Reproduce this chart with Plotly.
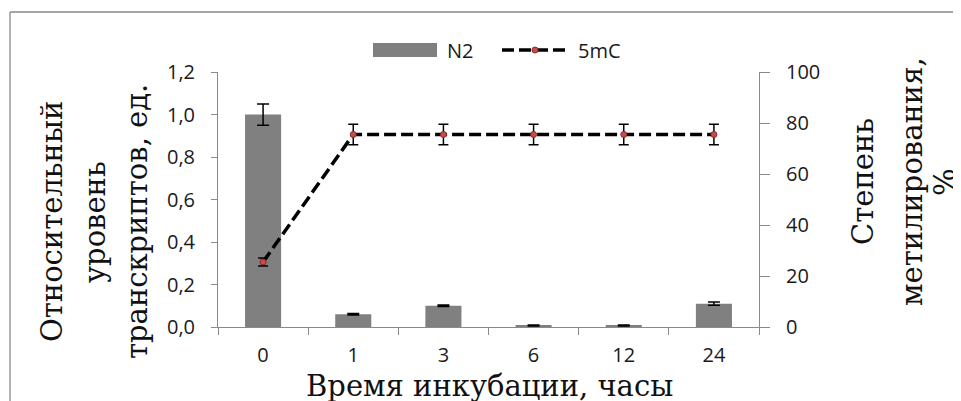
import plotly.graph_objects as go

# ---- data ----
categories = ["0", "1", "3", "6", "12", "24"]
series_names = ["N2", "5mC"]
n2_values = [1.00, 0.06, 0.10, 0.007, 0.007, 0.11]
n2_errors = [0.05, 0.004, 0.004, 0.002, 0.002, 0.008]
mc_values = [25.5, 75.5, 75.5, 75.5, 75.5, 75.5]
mc_errors = [1.6, 4.0, 4.0, 4.0, 4.0, 4.0]
left_ticks = [0, 0.2, 0.4, 0.6, 0.8, 1.0, 1.2]
right_ticks = [0, 20, 40, 60, 80, 100]
x_title = "Время инкубации, часы"
left_title_lines = ["Относительный", "уровень", "транскриптов, ед."]
right_title_lines = ["Степень", "метилирования,", "%"]

# page body adds an 8px margin; layout is designed in screen pixels
OFF = 8
W, H = 961, 401
L, R, T, B = 218 - OFF, 759 - OFF, 72 - OFF, 327 - OFF


def px(x):
    return (x - OFF - L) / (R - L)


def py(y):
    return (B - (y - OFF)) / (B - T)


TICK_FONT = dict(family="Open Sans", size=20, color="#1a1a1a")
TITLE_FONT = dict(family="DejaVu Serif", size=29, color="#111111")
AXIS_GREY = "#8a8a8a"

fig = go.Figure()
fig.add_trace(go.Bar(
    x=categories, y=n2_values, name=series_names[0],
    marker=dict(color="#808080", line=dict(width=0)),
    error_y=dict(type="data", array=n2_errors, color="black", thickness=1.5, width=6),
    showlegend=False,
))
fig.add_trace(go.Scatter(
    x=categories, y=mc_values, name=series_names[1], yaxis="y2",
    mode="lines+markers",
    line=dict(color="black", width=3.5, dash="12px,5px"),
    marker=dict(color="#c0504d", size=6, line=dict(color="#a02020", width=1)),
    error_y=dict(type="data", array=mc_errors, color="black", thickness=1.5, width=5),
    showlegend=False,
))

annotations = []
shapes = []

# custom legend
shapes.append(dict(type="rect", xref="paper", yref="paper",
                   x0=px(373), x1=px(437), y0=py(57), y1=py(43),
                   fillcolor="#808080", line=dict(width=0)))
annotations.append(dict(xref="paper", yref="paper", x=px(445), y=py(50),
                        text=series_names[0], showarrow=False, xanchor="left",
                        yanchor="middle", font=TICK_FONT))
shapes.append(dict(type="line", xref="paper", yref="paper",
                   x0=px(502), x1=px(568), y0=py(50), y1=py(50),
                   line=dict(color="black", width=3.5, dash="12px,5px")))
shapes.append(dict(type="circle", xref="paper", yref="paper",
                   x0=px(532), x1=px(538), y0=py(53), y1=py(47),
                   fillcolor="#c0504d", line=dict(color="#a02020", width=1)))
annotations.append(dict(xref="paper", yref="paper", x=px(576), y=py(50),
                        text=series_names[1], showarrow=False, xanchor="left",
                        yanchor="middle", font=TICK_FONT))

# outer chart frame (left and top edges visible)
shapes.append(dict(type="line", xref="paper", yref="paper",
                   x0=px(10), x1=px(10), y0=py(12), y1=py(430),
                   line=dict(color=AXIS_GREY, width=1.3)))
shapes.append(dict(type="line", xref="paper", yref="paper",
                   x0=px(10), x1=px(990), y0=py(12), y1=py(12),
                   line=dict(color=AXIS_GREY, width=1.3)))

# axis titles
annotations.append(dict(xref="paper", yref="paper", x=px(489), y=py(386),
                        text=x_title, showarrow=False, xanchor="center",
                        yanchor="middle", font=TITLE_FONT))
for xline, txt in zip([52, 95, 137], left_title_lines):
    annotations.append(dict(xref="paper", yref="paper", x=px(xline), y=py(222),
                            text=txt, showarrow=False, textangle=-90,
                            xanchor="center", yanchor="middle", font=TITLE_FONT))
for xline, txt in zip([863, 912, 945], right_title_lines):
    annotations.append(dict(xref="paper", yref="paper", x=px(xline), y=py(182),
                            text=txt, showarrow=False, textangle=-90,
                            xanchor="center", yanchor="middle", font=TITLE_FONT))

fig.update_layout(
    width=W, height=H,
    margin=dict(l=L, r=W - R, t=T, b=H - B, pad=0),
    paper_bgcolor="white", plot_bgcolor="white",
    separators=", ",
    bargap=0.6,
    showlegend=False,
    xaxis=dict(type="category", categoryorder="array", categoryarray=categories,
               range=[-0.5, len(categories) - 0.5],
               tickson="boundaries", ticks="outside", ticklen=7, tickwidth=1,
               tickcolor=AXIS_GREY, showline=True, linecolor=AXIS_GREY, linewidth=1,
               showgrid=False, zeroline=False, tickfont=TICK_FONT,
               ticklabelstandoff=10),
    yaxis=dict(range=[0, 1.2], tickvals=left_ticks, tickformat=".1f",
               ticks="outside", ticklen=6, tickwidth=1, tickcolor=AXIS_GREY,
               showline=True, linecolor=AXIS_GREY, linewidth=1,
               showgrid=False, zeroline=False, tickfont=TICK_FONT,
               ticklabelstandoff=12),
    yaxis2=dict(range=[0, 100], tickvals=right_ticks, overlaying="y", side="right",
                ticks="outside", ticklen=10, tickwidth=1, tickcolor=AXIS_GREY,
                showline=True, linecolor=AXIS_GREY, linewidth=1,
                showgrid=False, zeroline=False, tickfont=TICK_FONT,
                ticklabelstandoff=12),
    annotations=annotations,
    shapes=shapes,
)

fig.write_html("out.html")
